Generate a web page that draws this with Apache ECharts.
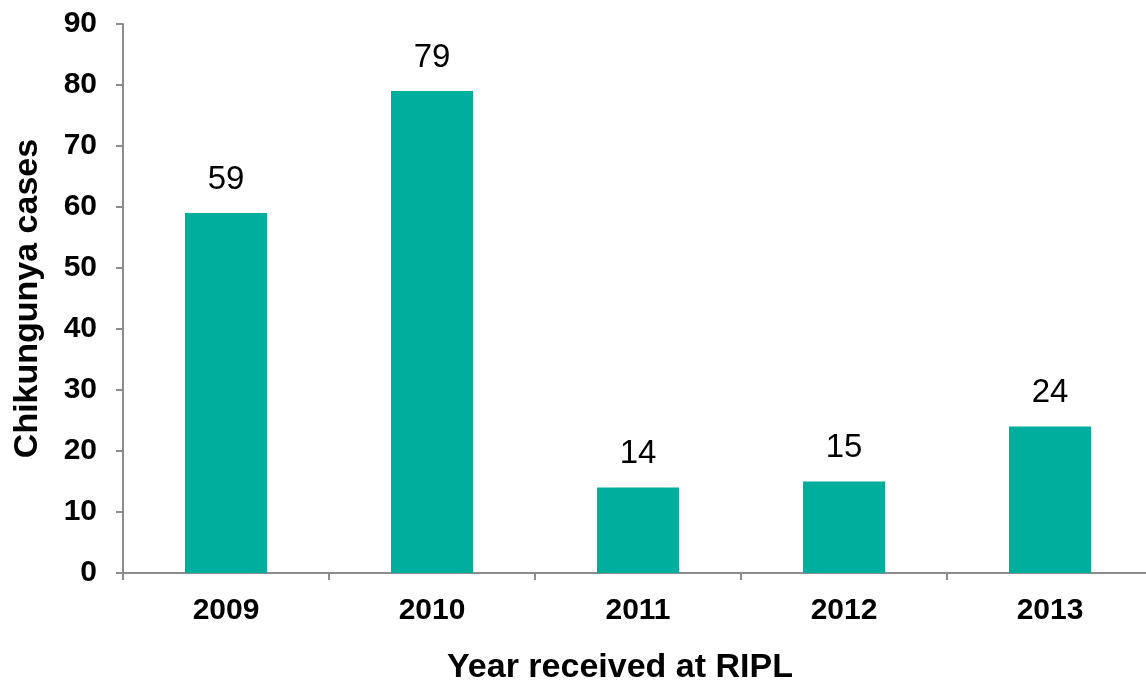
<!DOCTYPE html>
<html><head><meta charset="utf-8">
<script src="https://cdn.jsdelivr.net/npm/echarts@6/dist/echarts.min.js"></script>
<style>html,body{margin:0;padding:0;background:#fff}#c{width:1146px;height:682px}</style>
</head><body><div id="c"></div>
<script>
const categories = ['2009', '2010', '2011', '2012', '2013'];
const cases = [59, 79, 14, 15, 24];
const yTicks = { min: 0, max: 90, interval: 10 };

const chart = echarts.init(document.getElementById('c'));
const F = 'Liberation Sans, Arial, sans-serif';
chart.setOption({
  animation: false,
  grid: { left: 123, right: -7, top: 24, bottom: 109, containLabel: false, outerBoundsMode: 'none' },
  xAxis: {
    type: 'category', data: categories,
    name: 'Year received at RIPL', nameLocation: 'middle', nameGap: 78,
    nameTextStyle: { fontFamily: F, fontWeight: 'bold', fontSize: 34, color: '#000', padding: [0, 36, 0, 0] },
    axisLine: { lineStyle: { color: '#8c8c8c', width: 2 } },
    axisTick: { show: true, length: 7, lineStyle: { color: '#8c8c8c', width: 2 } },
    axisLabel: { fontFamily: F, fontWeight: 'bold', fontSize: 30, color: '#000', margin: 23 }
  },
  yAxis: {
    type: 'value', min: yTicks.min, max: yTicks.max, interval: yTicks.interval,
    name: 'Chikungunya cases', nameLocation: 'middle', nameGap: 78,
    nameTextStyle: { fontFamily: F, fontWeight: 'bold', fontSize: 34, color: '#000' },
    axisLine: { show: true, lineStyle: { color: '#8c8c8c', width: 2 } },
    axisTick: { show: true, length: 7, lineStyle: { color: '#8c8c8c', width: 2 } },
    splitLine: { show: false },
    axisLabel: { fontFamily: F, fontWeight: 'bold', fontSize: 30, color: '#000', margin: 26 }
  },
  series: [{
    type: 'bar', data: cases, barWidth: 82,
    itemStyle: { color: '#00ae9d' },
    label: { show: true, position: 'top', distance: 17, fontFamily: F, fontSize: 33, color: '#000' }
  }]
});
</script></body></html>
